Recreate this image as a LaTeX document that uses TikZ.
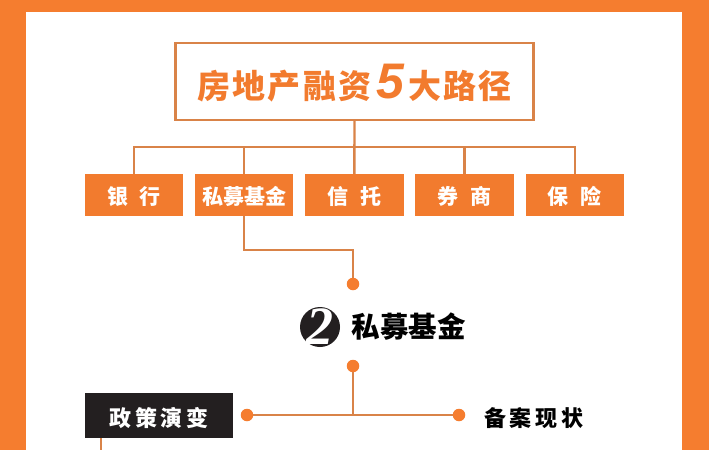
\documentclass[tikz,border=0pt]{standalone}
\usepackage{fontspec}
\usetikzlibrary{positioning, calc}
\setmainfont{Liberation Sans}
\newfontfamily\cjk{Noto Sans CJK SC}[BoldFont=Noto Sans CJK SC Black]
\newfontfamily\digits{Liberation Serif}
\definecolor{framecol}{HTML}{F57D2F}
\definecolor{boxcol}{HTML}{F27B2E}
\definecolor{linecol}{HTML}{D98348}
\definecolor{darkcol}{HTML}{231F20}
\tikzset{
  pathbox/.style={fill=boxcol, text=white, minimum width=98.5pt, minimum height=42pt, inner sep=0pt, text height=18pt, text depth=0pt, font=\cjk\bfseries\fontsize{21}{21}\selectfont},
  link/.style={draw=linecol, line width=2.4pt},
  dot/.style={circle, fill=framecol, inner sep=0pt, minimum size=12.5pt},
  label/.style={inner sep=0pt, font=\cjk\bfseries\fontsize{22}{22}\selectfont}
}
\begin{document}
\begin{tikzpicture}[x=1pt, y=-1pt]

\useasboundingbox (0,0) rectangle (709,450);
\fill [framecol] (0,0) rectangle (709,450);
\fill [white] (26,12) rectangle (682,450);

% top of the tree
\node [draw=linecol, line width=2.4pt, minimum width=358pt, minimum height=77pt, inner sep=0pt, text=boxcol, text height=34pt, text depth=0pt] (title) at (354.5,81.5)
  {\cjk\bfseries\fontsize{33}{33}\selectfont 房\kern2.3pt 地\kern2.3pt 产\kern2.3pt 融\kern2.3pt 资\kern5pt{\rmfamily\bfseries\itshape\fontsize{50}{50}\selectfont 5}\kern4pt 大\kern2.3pt 路\kern2.3pt 径};

\node [pathbox] (bank) at (134,195) {银\hspace{12pt}行};
\node [pathbox, right=11.3pt of bank] (fund) {私募基金};
\node [pathbox, right=11.3pt of fund] (trust) {信\hspace{12pt}托};
\node [pathbox, right=11.3pt of trust] (broker) {券\hspace{12pt}商};
\node [pathbox, right=11.3pt of broker] (insure) {保\hspace{12pt}险};

\coordinate (bus) at (354.5,147);
\path [link] (title) -- (trust);
\path [link] (bus) -| (bank.north);
\path [link] (bus) -| (fund.north);
\path [link] (bus) -| (broker.north);
\path [link] (bus) -| (insure.north);

% second level
\node [dot] (dotA) at (353,284) {};
\path [link] (fund.south) |- (243,250) -| (dotA);

\node [circle, fill=darkcol, minimum size=40pt, inner sep=0pt] (badge) at (320,327) {};
\node [inner sep=0pt, text=white, font=\digits\bfseries\itshape\fontsize{54}{54}\selectfont] (badgenum) at (badge) {2};
\node [label, font=\cjk\bfseries\fontsize{28.5}{28.5}\selectfont, right=11.5pt of badge] (head) {私募基金};

\node [dot] (dotB) at (353,366) {};
\coordinate (split) at (353,415);
\node [dot] (dotC) at (247,415) {};
\node [dot] (dotD) at (459,415) {};
\path [link] (dotB) -- (split);
\path [link] (dotC) -- (dotD);

\node [fill=darkcol, text=white, minimum width=148pt, minimum height=45pt, inner sep=0pt, text height=22pt, text depth=0pt, font=\cjk\bfseries\fontsize{22}{22}\selectfont] (policy) at (159,415.5) {政\,策\,演\,变};
\node [label, text height=22pt, text depth=0pt, right=18.5pt of dotD] (record) {备\,案\,现\,状};

\coordinate (stub) at (101,450);
\path [link] (policy.south -| stub) -- (stub);

\end{tikzpicture}
\end{document}
